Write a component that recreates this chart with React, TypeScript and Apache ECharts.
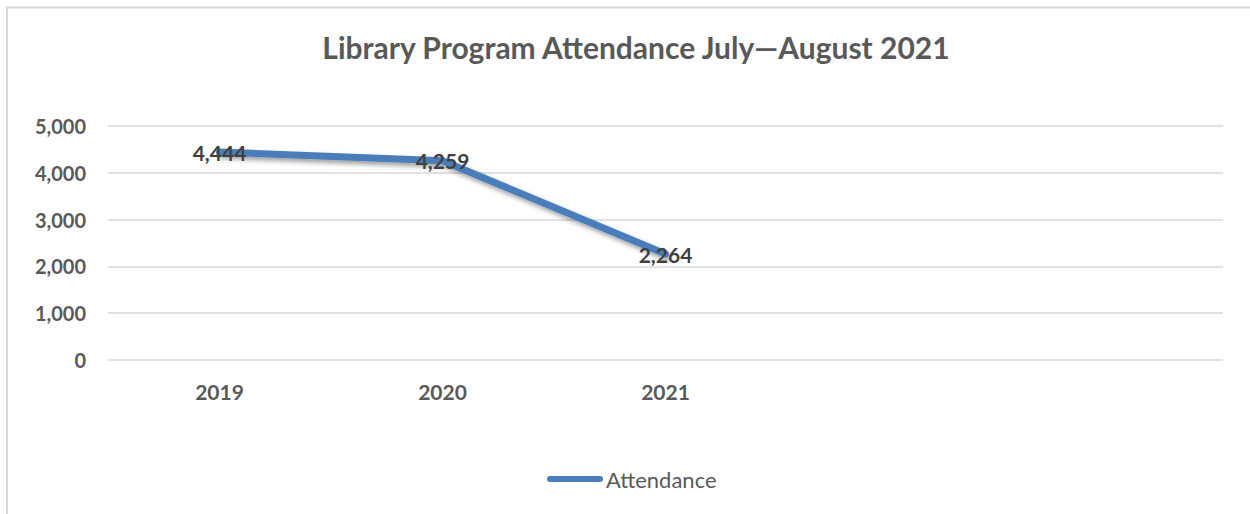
import React, { useEffect, useRef } from "react";
import * as echarts from "echarts";

const categories = ["2019", "2020", "2021", "", ""];
const attendance = [4444, 4259, 2264];
const yTicks = [0, 1000, 2000, 3000, 4000, 5000];

const FONT = "Lato, 'Open Sans', sans-serif";
const BLUE = "#4a7ebb";

export default function App() {
  const ref = useRef<HTMLDivElement>(null);
  useEffect(() => {
    if (!ref.current) return;
    const chart = echarts.init(ref.current, null, { renderer: "svg" });
    chart.setOption({
      animation: false,
      backgroundColor: "#ffffff",
      title: {
        text: "Library Program Attendance July\u2014August 2021",
        left: 631,
        textAlign: "center",
        top: 27,
        textStyle: { fontFamily: FONT, fontSize: 30, fontWeight: "bold", color: "#595959" },
      },
      graphic: [
        {
          type: "polyline",
          shape: { points: [[7, 520], [7, 7.5], [1252, 7.5]] },
          style: { stroke: "#d9d9d9", lineWidth: 2, fill: "none" },
          silent: true,
        },
      ],
      legend: {
        bottom: 19,
        left: 542,
        itemWidth: 56,
        itemHeight: 14,
        itemGap: 4,
        data: [
          {
            name: "Attendance",
            icon: "path://M3,4 L53,4 A3,3 0 0 1 53,10 L3,10 A3,3 0 0 1 3,4 Z",
            itemStyle: { color: BLUE, opacity: 1 },
          },
        ],
        textStyle: { fontFamily: FONT, fontSize: 22, color: "#595959", padding: [0, 0, 0, -2] },
      },
      grid: { left: 108, right: 27, top: 126, bottom: 154 },
      xAxis: {
        type: "category",
        data: categories,
        boundaryGap: true,
        axisLine: { show: false },
        axisTick: { show: false },
        axisLabel: {
          margin: 21,
          fontFamily: FONT,
          fontSize: 21,
          fontWeight: "bold",
          color: "#595959",
        },
      },
      yAxis: {
        type: "value",
        min: yTicks[0],
        max: yTicks[yTicks.length - 1],
        interval: 1000,
        axisLine: { show: false },
        axisTick: { show: false },
        splitLine: { lineStyle: { color: "#d9d9d9", width: 1.5 } },
        axisLabel: {
          margin: 22,
          fontFamily: FONT,
          fontSize: 20,
          fontWeight: "bold",
          color: "#595959",
          formatter: (v: number) => v.toLocaleString("en-US"),
        },
      },
      series: [
        {
          name: "Attendance",
          type: "line",
          data: attendance,
          showSymbol: true,
          symbol: "circle",
          symbolSize: 2,
          lineStyle: {
            color: BLUE,
            width: 7,
            cap: "round",
            join: "round",
            shadowColor: "rgba(0,0,0,0.4)",
            shadowBlur: 5,
            shadowOffsetX: 2,
            shadowOffsetY: 3,
          },
          itemStyle: { color: BLUE },
          label: {
            show: true,
            position: "inside",
            fontFamily: FONT,
            fontSize: 21,
            fontWeight: "bold",
            color: "#404040",
            formatter: (p: any) => Number(p.value).toLocaleString("en-US"),
          },
        },
      ],
    });
    return () => chart.dispose();
  }, []);
  return (
    <div
      ref={ref}
      style={{ position: "fixed", left: 0, top: 0, width: 1250, height: 514 }}
    />
  );
}
